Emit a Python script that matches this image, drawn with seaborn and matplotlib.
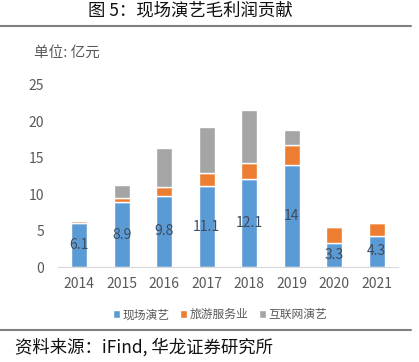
import pandas as pd
import matplotlib
matplotlib.use("Agg")
import matplotlib.pyplot as plt
import seaborn as sns

# 数据
anos = ["2014", "2015", "2016", "2017", "2018", "2019", "2020", "2021"]
xianchang = [6.1, 8.9, 9.8, 11.1, 12.1, 14.0, 3.3, 4.3]
lvyou = [0.2, 0.55, 1.2, 1.8, 2.2, 2.7, 2.2, 1.8]
hulianwang = [0.0, 1.8, 5.4, 6.3, 7.2, 2.1, 0.0, 0.0]
series_names = ["现场演艺", "旅游服务业", "互联网演艺"]
cores = ["#5B9BD5", "#ED7D31", "#A5A5A5"]

dados = pd.DataFrame({"ano": anos, "a": xianchang, "b": lvyou, "c": hulianwang})

sns.set_style("white")
plt.rcParams["font.family"] = ["Liberation Sans Narrow", "Noto Sans CJK SC", "DejaVu Sans"]
cjk = ["Noto Sans CJK SC", "DejaVu Sans"]

fig = plt.figure(figsize=(4.19, 3.62), dpi=100)
ax = fig.add_axes([0.138, 0.2624, 0.812, 0.5028])

base2 = dados["a"]
base3 = dados["a"] + dados["b"]
sns.barplot(data=dados, x="ano", y="a", color=cores[0], width=0.38, ax=ax,
            saturation=1, label=series_names[0])
sns.barplot(data=dados, x="ano", y="b", color=cores[1], width=0.38, ax=ax,
            saturation=1, bottom=base2, label=series_names[1])
sns.barplot(data=dados, x="ano", y="c", color=cores[2], width=0.38, ax=ax,
            saturation=1, bottom=base3, label=series_names[2])

# rótulos
for i, v in enumerate(xianchang):
    ax.text(i, v / 2, f"{v:g}", ha="center", va="center", fontsize=10, color="#3F4A5C")

ax.set_ylim(0, 25)
ax.set_yticks([0, 5, 10, 15, 20, 25])
ax.set_xlim(-0.5, 7.5)
ax.set_xlabel("")
ax.set_ylabel("")
for s in ["top", "right", "left"]:
    ax.spines[s].set_visible(False)
ax.spines["bottom"].set_color("#D9D9D9")
ax.tick_params(axis="both", length=0, labelsize=10, colors="#595959", pad=7)
ax.tick_params(axis="y", pad=10)

ax.legend(loc="upper center", bbox_to_anchor=(0.525, 0.178), bbox_transform=fig.transFigure,
          ncol=3, frameon=False, handlelength=0.6, handleheight=0.6, handletextpad=0.2,
          columnspacing=0.9, prop={"family": cjk, "size": 8.5}, labelcolor="#595959")

fig.text(0.455, 0.972, "图 5：现场演艺毛利润贡献", ha="center", va="center",
         fontsize=12.5, family=cjk, color="#111111")
fig.text(0.08, 0.855, "单位: 亿元", ha="left", va="center", fontsize=10.5,
         family=cjk, color="#595959")
fig.text(0.035, 0.04, "资料来源：iFind, 华龙证券研究所", ha="left", va="center",
         fontsize=12.5, family=cjk, color="#111111")

fig.add_artist(plt.Line2D([0, 0.98], [0.928, 0.928], color="#808080", lw=1.5))
fig.add_artist(plt.Line2D([0, 0.98], [0.088, 0.088], color="#808080", lw=1.5))

fig.savefig("out.png", dpi=100)
